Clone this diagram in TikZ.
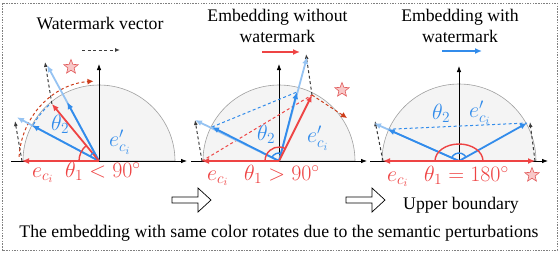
\documentclass[tikz,border=0pt]{standalone}
\usepackage{fix-cm}
\usepackage[no-math]{fontspec}
\setmainfont{Liberation Serif}
\usetikzlibrary{arrows.meta,shapes.geometric}
\definecolor{vred}{RGB}{238,68,68}
\definecolor{vblue}{RGB}{50,140,235}
\definecolor{lblue}{RGB}{150,195,242}
\definecolor{dred}{RGB}{205,60,25}
\definecolor{dgray}{RGB}{60,60,60}
\definecolor{semi}{RGB}{244,244,244}
\definecolor{semiline}{RGB}{160,160,160}
\definecolor{starfill}{RGB}{248,200,200}
\definecolor{starline}{RGB}{225,90,90}
\begin{document}
\begin{tikzpicture}[x=1pt,y=-1pt,
  every node/.style={font=\fontsize{17.7}{20}\selectfont, inner sep=0pt},
  lbl/.style={anchor=base west, font=\fontsize{22}{25}\selectfont},
  ttl/.style={anchor=base},
  ax/.style={line width=0.8pt, black, -{Latex[length=6pt,width=4.5pt]}},
  semicirc/.style={fill=semi, draw=semiline, line width=0.6pt},
  vr/.style={draw=vred, line width=1.8pt, -{Latex[length=7pt,width=6pt]}},
  vb/.style={draw=vblue, line width=1.8pt, -{Latex[length=7pt,width=6pt]}},
  vlb/.style={draw=lblue, line width=1.8pt, -{Latex[length=7pt,width=6pt]}},
  gd/.style={draw=dgray, line width=1pt, dash pattern=on 3pt off 2.5pt, -{Latex[length=5pt,width=4pt]}},
  rdl/.style={draw=vred, line width=1pt, dash pattern=on 3pt off 2.5pt},
  bdl/.style={draw=vblue, line width=1pt, dash pattern=on 3pt off 2.5pt},
  drd/.style={draw=dred, line width=1pt, dash pattern=on 3pt off 2.5pt, -{Latex[length=6pt,width=6pt]}},
  rarc/.style={draw=vred, line width=1.4pt},
  barc/.style={draw=vblue, line width=1.4pt},
  starmark/.style={star, star points=5, star point ratio=2.3, minimum size=15pt, fill=starfill, draw=starline, line width=0.6pt},
  hollow/.style={draw=black, line width=0.7pt, fill=white}
]
\useasboundingbox (0,0) rectangle (560,252);
\draw[gray, line width=0.8pt, dash pattern=on 1.5pt off 1.2pt] (2,3) rectangle (557,250);

% ================= Panel 1 =================
\coordinate (O1) at (99,161);
\fill[semicirc] ([shift={(-76,0)}]O1) arc[start angle=-180, end angle=0, radius=76] -- cycle;
\coordinate (x1a) at (11,161);
\coordinate (x1b) at (187,161);
\coordinate (y1t) at (99,64);
\draw[ax] (x1a) -- (x1b);
\draw[ax] (O1) -- (y1t);
\coordinate (e1) at (22,161);
\coordinate (r1) at (51.9,103.9);
\coordinate (bA1) at (31.9,125.3);
\coordinate (lA1) at (16.9,117.3);
\coordinate (bB1) at (67.1,102.1);
\coordinate (lB1) at (47.1,65.2);
\coordinate (g1a) at (15,121);
\coordinate (g1b) at (45,62);
\draw[gd] (e1) -- (g1a);
\draw[gd] (r1) -- (g1b);
\draw[drd] ([shift={(-177:80)}]O1) arc[start angle=-177, end angle=-94, radius=80];
\draw[bdl] ([shift={(-151:75)}]O1) arc[start angle=-151, end angle=-131, radius=75];
\draw[vlb] (O1) -- (lA1);
\draw[vlb] (O1) -- (lB1);
\draw[vb] (O1) -- (bA1);
\draw[vb] (O1) -- (bB1);
\draw[vr] (O1) -- (e1);
\draw[vr] (O1) -- (r1);
\draw[rarc] ([shift={(-129.5:20)}]O1) arc[start angle=-129.5, end angle=-180, radius=20];
\draw[barc] ([shift={(-118.4:10)}]O1) arc[start angle=-118.4, end angle=-152, radius=10];
\node[starmark] (s1) at (71,67) {};
\coordinate (w1a) at (82,50);
\coordinate (w1b) at (120,50);
\draw[gd] (w1a) -- (w1b);
\node[ttl] (t1) at (100,29.5) {Watermark vector};
\node[lbl, text=vred] (ec1) at (32,177) {$e_{c_i}$};
\node[lbl, text=vred] (th1) at (65,177) {$\theta_1<90^\circ$};
\node[lbl, text=vblue] (tb1) at (51,130.5) {$\theta_2$};
\node[lbl, text=vblue] (ep1) at (109,146.5) {$e'_{c_i}$};

% ================= Panel 2 =================
\coordinate (O2) at (279,161);
\fill[semicirc] ([shift={(-76,0)}]O2) arc[start angle=-180, end angle=0, radius=76] -- cycle;
\coordinate (x2a) at (191,161);
\coordinate (x2b) at (367,161);
\coordinate (y2t) at (279,64);
\draw[ax] (x2a) -- (x2b);
\draw[ax] (O2) -- (y2t);
\coordinate (e2) at (202,161);
\coordinate (r2) at (312,95);
\coordinate (bA2) at (212,127);
\coordinate (lA2) at (195,120);
\coordinate (bB2) at (297,92);
\coordinate (lB2) at (307,57);
\coordinate (g2a) at (195,120);
\coordinate (g2b) at (306,54);
\coordinate (d2) at (347,118);
\draw[rdl] (e2) -- (r2);
\draw[bdl] (bA2) -- (bB2);
\draw[gd] (e2) -- (g2a);
\draw[gd] (r2) -- (g2b);
\draw[drd] (r2) -- (d2);
\draw[vlb] (O2) -- (lA2);
\draw[vlb] (O2) -- (lB2);
\draw[vb] (O2) -- (bA2);
\draw[vb] (O2) -- (bB2);
\draw[vr] (O2) -- (e2);
\draw[vr] (O2) -- (r2);
\draw[rarc] ([shift={(-63.4:14)}]O2) arc[start angle=-63.4, end angle=-180, radius=14];
\draw[barc] ([shift={(-75.4:8)}]O2) arc[start angle=-75.4, end angle=-153, radius=8];
\node[starmark] (s2) at (342,90) {};
\coordinate (w2a) at (262,52);
\coordinate (w2b) at (300,52);
\draw[vr] (w2a) -- (w2b);
\node[ttl] (t2a) at (277.5,21) {Embedding without};
\node[ttl] (t2b) at (277.5,42.5) {watermark};
\node[lbl, text=vred] (ec2) at (207,180) {$e_{c_i}$};
\node[lbl, text=vred] (th2) at (244,180) {$\theta_1>90^\circ$};
\node[lbl, text=vblue] (tb2) at (257,140) {$\theta_2$};
\node[lbl, text=vblue] (ep2) at (307,142.5) {$e'_{c_i}$};

% ================= Panel 3 =================
\coordinate (O3) at (459,161);
\fill[semicirc] ([shift={(-77,0)}]O3) arc[start angle=-180, end angle=0, radius=77] -- cycle;
\coordinate (x3a) at (370,161);
\coordinate (x3b) at (548,161);
\coordinate (y3t) at (459,66);
\draw[ax] (x3a) -- (x3b);
\draw[ax] (O3) -- (y3t);
\coordinate (e3) at (383,161);
\coordinate (r3) at (535,161);
\coordinate (bA3) at (387.7,129.3);
\coordinate (lA3) at (374,123.2);
\coordinate (bB3) at (527,123);
\coordinate (g3a) at (375,121);
\coordinate (g3b) at (530,122);
\draw[bdl] (bA3) -- (bB3);
\draw[gd] (e3) -- (g3a);
\draw[gd] (r3) -- (g3b);
\draw[vlb] (O3) -- (lA3);
\draw[vb] (O3) -- (bA3);
\draw[vb] (O3) -- (bB3);
\draw[vr] (O3) -- (e3);
\draw[vr] (O3) -- (r3);
\draw[rarc] ([shift={(24,0)}]O3) arc[start angle=0, end angle=-180, x radius=24, y radius=17];
\draw[barc] ([shift={(-29:8)}]O3) arc[start angle=-29, end angle=-156, radius=8];
\node[starmark] (s3) at (532,175) {};
\coordinate (w3a) at (442,51);
\coordinate (w3b) at (482,51);
\draw[vb] (w3a) -- (w3b);
\node[ttl] (t3a) at (460,21) {Embedding with};
\node[ttl] (t3b) at (460,42.5) {watermark};
\node[lbl, text=vred] (ec3) at (387,181) {$e_{c_i}$};
\node[lbl, text=vred] (th3) at (424,181) {$\theta_1=180^\circ$};
\node[lbl, text=vblue] (tb3) at (432,119.5) {$\theta_2$};
\node[lbl, text=vblue] (ep3) at (469,117) {$e'_{c_i}$};

% ================= Bottom =================
\draw[hollow] (172,197) -- (198,197) -- (198,188) -- (211,200) -- (198,212) -- (198,203) -- (172,203) -- cycle;
\draw[hollow] (346,197) -- (372,197) -- (372,188) -- (385,200) -- (372,212) -- (372,203) -- (346,203) -- cycle;
\node[ttl] (ub) at (461,209.5) {Upper boundary};
\node[ttl] (cap) at (279,237.5) {The embedding with same color rotates due to the semantic perturbations};
\end{tikzpicture}
\end{document}
